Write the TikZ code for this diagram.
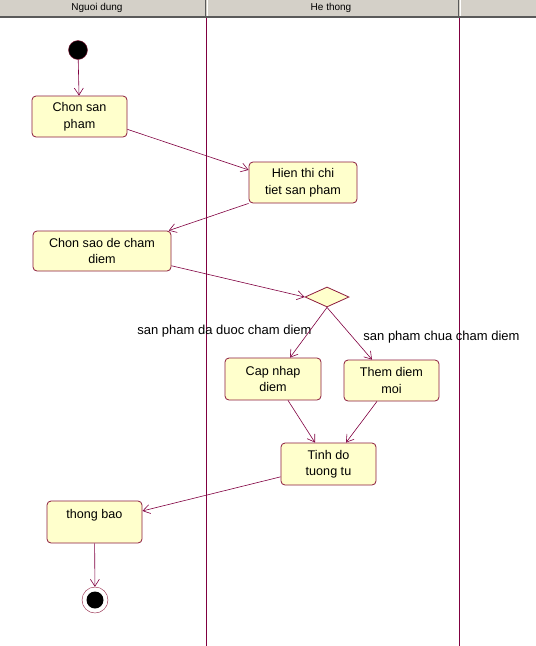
\documentclass[tikz,border=0pt]{standalone}
\usepackage{fontspec}
\setmainfont{Liberation Sans}
\usetikzlibrary{positioning, arrows.meta, shapes.geometric}
\definecolor{flow}{HTML}{800040}
\definecolor{actfill}{HTML}{FFFFCC}
\definecolor{actdraw}{HTML}{8C1A3C}
\definecolor{headbg}{HTML}{D4D0C8}
\definecolor{headline}{HTML}{5A5A5A}
\tikzset{
  act/.style      = {rectangle, rounded corners=4pt, draw=actdraw, fill=actfill,
                     line width=0.8pt, align=center, inner sep=0pt,
                     font=\fontsize{12.6}{16.5}\selectfont},
  decision/.style = {diamond, draw=actdraw, fill=actfill, line width=0.8pt,
                     minimum width=44pt, minimum height=20pt, inner sep=0pt},
  initial/.style  = {circle, fill=black, draw=actdraw, minimum size=19pt, inner sep=0pt},
  final/.style    = {circle, draw=actdraw, fill=white, minimum size=26pt, inner sep=0pt,
                     path picture={\fill[black] (path picture bounding box.center) circle (8.5pt);}},
  guard/.style    = {font=\fontsize{13}{15}\selectfont, inner sep=0pt},
  lane/.style     = {font=\fontsize{10}{11}\selectfont, inner sep=0pt},
  arr/.style      = {-{Straight Barb[length=7pt,width=9pt]}, draw=flow, line width=0.6pt},
}
\begin{document}
\begin{tikzpicture}[x=1pt, y=-1pt]
  \useasboundingbox (0,0) rectangle (536,646);

  % swimlane header
  \fill[headbg] (0,0) rectangle (536,16);
  \draw[headline, line width=1.6pt] (0,16.8) -- (536,16.8);
  \draw[headline, line width=1pt] (205.5,0) -- (205.5,16);
  \draw[white, line width=1pt] (207,0) -- (207,16);
  \draw[headline, line width=1pt] (458.5,0) -- (458.5,16);
  \draw[white, line width=1pt] (460,0) -- (460,16);
  \node[lane] (lane1) at (97,7.5) {Nguoi dung};
  \node[lane] (lane2) at (331,7.5) {He thong};

  % swimlane borders
  \coordinate (b1top) at (206,18);
  \coordinate (b1bot) at (206,646);
  \coordinate (b2top) at (459,18);
  \coordinate (b2bot) at (459,646);
  \draw[flow, line width=0.8pt] (b1top) -- (b1bot);
  \draw[flow, line width=0.8pt] (b2top) -- (b2bot);

  % activities
  \node[initial] (start) at (78,50) {};
  \node[act, minimum width=95pt, minimum height=41pt] (csp) at (79.5,116.5)
       {Chon san\\pham};
  \node[act, minimum width=108pt, minimum height=41pt] (hts) at (303,182.5)
       {Hien thi chi\\tiet san pham};
  \node[act, minimum width=138pt, minimum height=40pt] (csd) at (102,251)
       {Chon sao de cham\\diem};
  \node[decision] (dec) at (327,297) {};
  \node[act, minimum width=96pt, minimum height=42pt] (cnd) at (273,379)
       {Cap nhap\\diem};
  \node[act, minimum width=95pt, minimum height=41pt] (tdm) at (391.5,380.5)
       {Them diem\\moi};
  \node[act, minimum width=95pt, minimum height=42pt] (tdt) at (328.5,464)
       {Tinh do\\tuong tu};
  \node[act, minimum width=95pt, minimum height=42pt] (tbo) at (94.5,522)
       {thong bao\\\mbox{}};
  \node[final] (stop) at (95,600) {};

  % guards
  \node[guard] (gdone) at (224.5,331.5) {san pham da duoc cham diem};
  \node[guard] (gnew) at (441.5,337) {san pham chua cham diem};

  % Arrows
  \draw[arr] (start) -- (csp);
  \draw[arr] (csp.-15) -- (hts.167);
  \draw[arr] (hts.201) -- (csd.17);
  \draw[arr] (csd.-12) -- (dec.west);
  \draw[arr] (dec.south) -- ([xshift=17pt]cnd.north);
  \draw[arr] (dec.south) -- ([xshift=-19.5pt]tdm.north);
  \draw[arr] ([xshift=15pt]cnd.south) -- ([xshift=-13.5pt]tdt.north);
  \draw[arr] ([xshift=-14.5pt]tdm.south) -- ([xshift=17.5pt]tdt.north);
  \draw[arr] (tdt.195) -- (tbo.13);
  \draw[arr] (tbo) -- (stop);

\end{tikzpicture}
\end{document}
